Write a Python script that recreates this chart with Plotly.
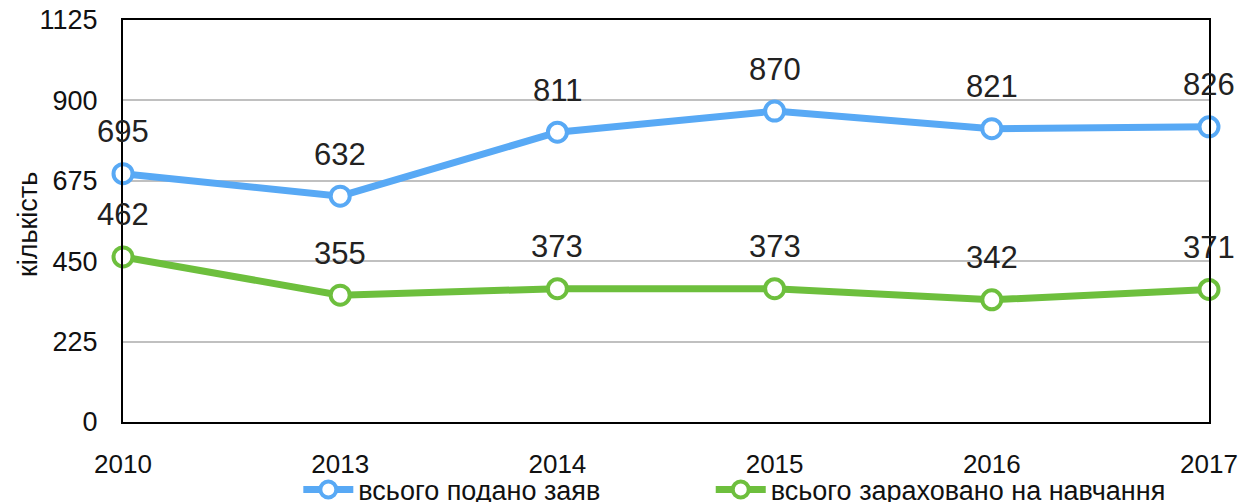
import plotly.graph_objects as go

years = ["2010", "2013", "2014", "2015", "2016", "2017"]
submitted = [695, 632, 811, 870, 821, 826]
enrolled = [462, 355, 373, 373, 342, 371]
series_names = ["всього подано заяв", "всього зараховано на навчання"]
y_ticks = [0, 225, 450, 675, 900, 1125]
y_title = "кількість"

blue = "#58a9f5"
green = "#6dbf3d"
font_family = "Arial, Liberation Sans, sans-serif"

xs = list(range(len(years)))
fig = go.Figure()
for vals, name, col, lg in [(submitted, series_names[0], blue, "legend"),
                            (enrolled, series_names[1], green, "legend2")]:
    fig.add_trace(go.Scatter(
        x=xs, y=vals, name=name, mode="lines+markers",
        line=dict(color=col, width=7),
        marker=dict(symbol="circle", size=19, color="white", line=dict(color=col, width=4)),
        cliponaxis=False, legend=lg,
    ))
    for xi, v in zip(xs, vals):
        fig.add_annotation(x=xi, y=v, text=str(v), showarrow=False, yshift=42,
                           font=dict(size=31, color="#222222", family=font_family),
                           yanchor="middle", xanchor="center")

fig.add_annotation(xref="paper", yref="paper", x=-0.0874, y=0.49, text=y_title,
                   textangle=-90, showarrow=False, xanchor="center", yanchor="middle",
                   font=dict(size=27, color="#111111", family=font_family))

legend_common = dict(orientation="h", xref="container", yref="container",
                     xanchor="left", y=0.04, yanchor="middle",
                     font=dict(size=27, family=font_family, color="#111111"),
                     itemwidth=50, bgcolor="rgba(0,0,0,0)")

fig.update_layout(
    width=1246, height=502,
    margin=dict(l=115, r=45, t=12, b=88, autoexpand=False),
    paper_bgcolor="white", plot_bgcolor="white",
    font=dict(family=font_family, color="#111111"),
    showlegend=True,
    legend=dict(x=0.233, **legend_common),
    legend2=dict(x=0.564, **legend_common),
)
fig.update_xaxes(
    range=[0, len(years) - 1], tickvals=xs, ticktext=years,
    showgrid=False, zeroline=False, automargin=False,
    showline=True, linecolor="black", linewidth=2, mirror=True,
    ticks="", ticklabelstandoff=18, ticklabeloverflow="allow",
    tickfont=dict(size=26, color="#111111"),
)
fig.update_yaxes(
    range=[0, 1125], tickvals=y_ticks,
    showgrid=True, gridcolor="#c0c0c0", gridwidth=2, zeroline=False, automargin=False,
    showline=True, linecolor="black", linewidth=2, mirror=True,
    ticks="", ticklabelstandoff=18, ticklabeloverflow="allow",
    tickfont=dict(size=27, color="#111111"),
)
fig.write_html("out.html")
